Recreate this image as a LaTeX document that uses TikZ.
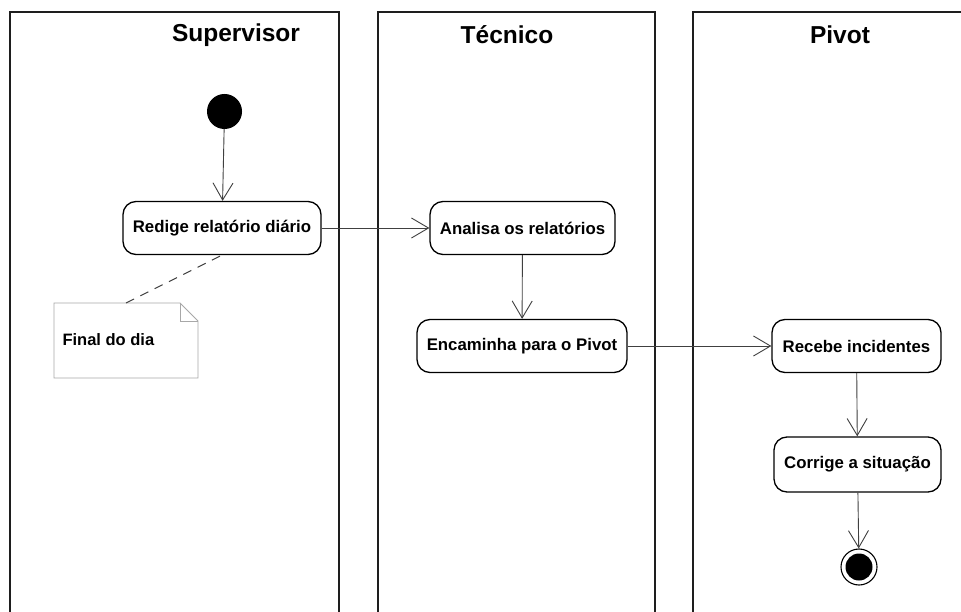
\documentclass[tikz,border=0pt]{standalone}
\usepackage{fontspec}
\setmainfont{Liberation Sans}
\usetikzlibrary{arrows.meta}
\definecolor{lanecol}{HTML}{1E1E1E}
\definecolor{linkcol}{HTML}{404040}
\definecolor{notecol}{HTML}{A8A8A8}
\begin{document}
\begin{tikzpicture}[x=1pt,y=-1pt,
  lane/.style={draw=lanecol,line width=1.4pt},
  header/.style={font=\fontsize{24.5}{28}\selectfont\bfseries,text=black},
  action/.style={draw=black,line width=1.3pt,rounded corners=13pt,fill=white,
    font=\fontsize{16.8}{20}\selectfont\bfseries,inner xsep=6pt,minimum height=53pt},
  flow/.style={draw=linkcol,line width=0.9pt,-{Straight Barb[length=17pt,width=20pt,line width=0.9pt]}},
  anchorline/.style={draw=linkcol,line width=1pt,dash pattern=on 9pt off 7pt},
  notebody/.style={draw=notecol,line width=0.9pt,fill=white},
  notetext/.style={font=\fontsize{16.5}{20}\selectfont\bfseries,anchor=west}
]
\useasboundingbox (0,0) rectangle (961,612);
\clip (0,0) rectangle (961,612);
\fill[white] (0,0) rectangle (961,612);

% swimlanes
\draw[lane] (10,620) -- (10,12) -- (339,12) -- (339,620);
\draw[lane] (378,620) -- (378,12) -- (655,12) -- (655,620);
\draw[lane] (693,620) -- (693,12) -- (975,12);

% lane titles
\node[header] (hsup) at (236,35) {Supervisor};
\node[header] (htec) at (507,35) {Técnico};
\node[header] (hpiv) at (840,35) {Pivot};

% start and end states
\node[circle,fill=black,draw=black,line width=1pt,minimum size=34pt,inner sep=0pt] (start) at (224.5,111.5) {};
\node[circle,draw=black,line width=1.1pt,fill=white,minimum size=36pt,inner sep=0pt] (stop) at (859,567) {};
\node[circle,fill=black,minimum size=27pt,inner sep=0pt] (stopdot) at (stop.center) {};

% actions
\node[action,minimum width=198pt] (redige) at (222,228) {Redige relatório diário};
\node[action,minimum width=185pt] (analisa) at (522.5,228) {Analisa os relatórios};
\node[action,minimum width=210pt] (encaminha) at (522,346) {Encaminha para o Pivot};
\node[action,minimum width=169pt] (recebe) at (856.5,346) {Recebe incidentes};
\node[action,minimum width=167pt,minimum height=55pt] (corrige) at (857.5,464.5) {Corrige a situação};

% note with folded corner
\coordinate (note) at (126,303);
\draw[notebody] (54,303) -- (180,303) -- (198,321) -- (198,378) -- (54,378) -- cycle;
\draw[notebody,fill=none] (180,303) -- (180,321) -- (198,321);
\node[notetext] (notelabel) at (59,340) {Final do dia};

% connectors
\draw[anchorline] (note) -- (redige.south);
\draw[flow] (start) -- (redige);
\draw[flow] (redige) -- (analisa);
\draw[flow] (analisa) -- (encaminha);
\draw[flow] (encaminha) -- (recebe);
\draw[flow] (recebe) -- (corrige);
\draw[flow] (corrige) -- (stop);
\end{tikzpicture}
\end{document}
